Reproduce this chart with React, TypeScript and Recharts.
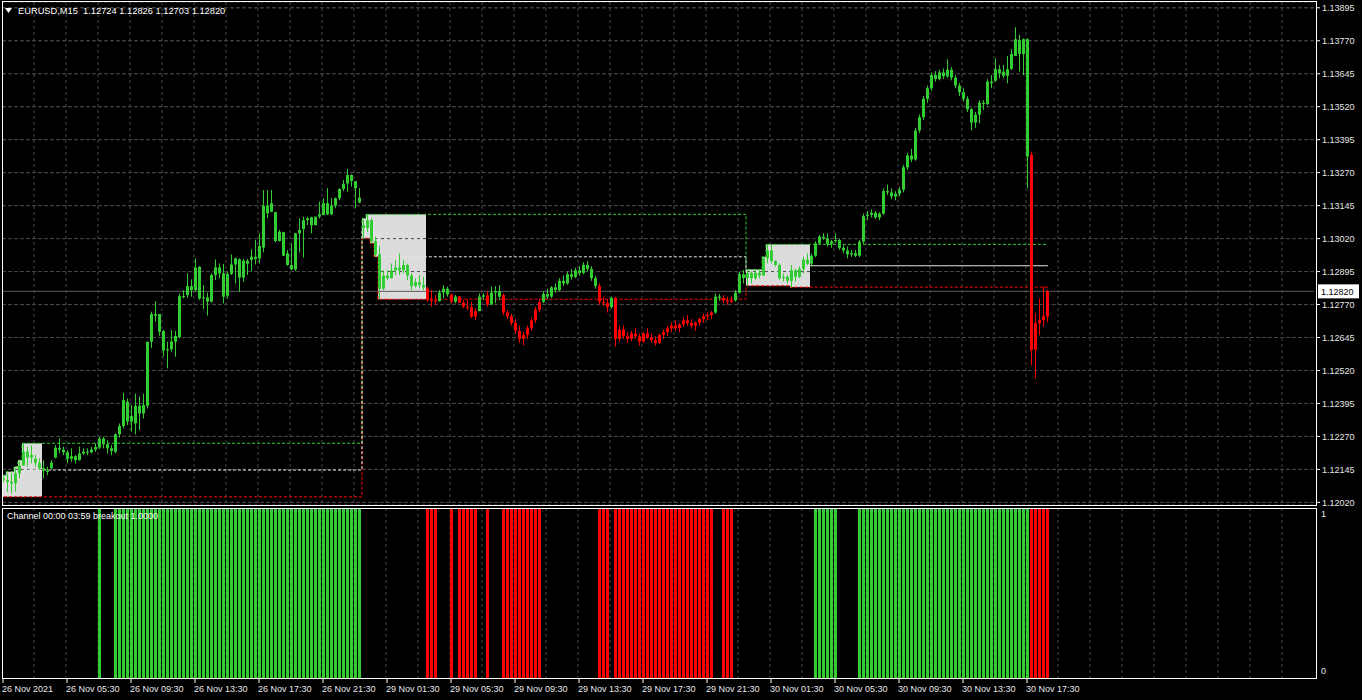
import React from "react";
import { ComposedChart, Bar, Line, XAxis, YAxis, CartesianGrid, ReferenceLine } from "recharts";

// Prices are stored in points above 1.12000 (1 point = 0.00001)
const PRICE_BASE = 1.12;
const POINT = 0.00001;

// [open, high, low, close] per M15 bar
const nov26Bars = [
  [111,120,96,105],[105,130,60,98],[98,130,54,92],[92,149,60,130],[130,174,111,160],
  [160,244,158,212],[212,231,155,190],[190,237,168,200],[185,199,155,170],[170,187,142,150],
  [150,180,111,140],[140,155,123,135],[150,180,145,170],[190,237,187,227],[227,262,206,220],
  [220,231,199,210],[210,218,168,185],[185,225,174,195],[195,199,168,180],[180,231,178,205],
  [205,225,199,212],[212,225,199,210],[210,231,206,220],[220,244,212,230],[228,268,222,262],
  [262,269,225,240],[240,256,206,225],[225,237,199,215],[212,281,206,278],[278,319,265,309],
  [309,436,300,408],[402,414,313,326],[326,389,288,348],[319,432,278,386],[386,421,294,357],
  [357,432,338,389],[386,629,376,629],[629,743,606,734],[734,783,705,728],[734,734,652,667],
  [670,673,572,596],[596,629,528,600],[600,673,591,630],[629,670,572,651],[647,812,642,802],
  [802,825,793,798],[806,888,796,840],[840,865,800,825],[825,945,819,910],[913,916,787,793],
  [793,844,753,797],[797,815,728,781],[781,888,777,882],[882,941,863,911],[911,926,869,888],
  [888,924,774,800],[803,895,793,886],[886,960,882,922],[922,948,850,945],[941,945,819,872],
  [872,943,857,936],[936,943,882,925],[939,980,897,951],[951,1015,922,943],[945,1040,926,992],
  [986,1204,968,1145],[1145,1204,1097,1116],[1122,1204,1120,1154],[1120,1122,1006,1011],[1011,1053,1008,1046],
  [1044,1046,955,955],[964,977,917,920],[920,1002,901,903],[903,1040,897,1040],[1040,1097,968,1053],
  [1056,1103,948,1090],[1090,1103,1071,1097],[1101,1103,1040,1071],[1071,1103,1071,1103],[1103,1160,1097,1112],
  [1109,1173,1109,1154],[1154,1211,1109,1112],[1112,1173,1109,1145],[1145,1176,1135,1173],[1173,1211,1166,1208],
  [1208,1242,1200,1227],[1229,1284,1198,1261],[1261,1264,1217,1238],[1238,1238,1135,1211],[1175,1211,1154,1157],
];

const nov29Bars = [
  [1070,1097,1021,1060],[1060,1112,1046,1090],[1090,1097,1002,1010],[1010,1027,951,960],[960,992,790,830],
  [830,901,825,880],[880,901,863,870],[870,926,869,900],[900,939,882,910],[910,964,882,900],
  [900,939,888,920],[920,925,863,880],[880,888,825,840],[840,869,835,855],[855,882,831,845],
  [845,876,825,835],[831,838,781,787],[787,825,762,785],[785,806,768,783],[783,825,781,815],
  [815,844,793,830],[830,838,800,808],[808,812,775,781],[781,806,775,800],[800,802,775,777],
  [777,787,756,762],[762,787,749,760],[760,781,718,724],[724,756,711,745],[745,812,745,800],
  [800,812,787,805],[805,822,762,770],[770,838,768,815],[815,840,775,820],[820,844,787,800],
  [806,812,730,740],[740,750,715,725],[725,735,690,700],[700,715,660,670],[670,690,625,640],
  [640,665,615,655],[655,690,640,680],[680,720,670,710],[710,760,700,750],[750,790,740,780],
  [780,820,775,810],[810,830,790,800],[800,840,795,835],[835,850,815,825],[825,870,820,860],
  [860,880,840,850],[850,895,845,885],[885,905,865,875],[875,910,870,900],[900,915,880,890],
  [890,930,885,920],[920,935,895,905],[905,915,860,870],[870,880,830,840],[840,850,770,780],
  [780,800,765,775],[775,790,740,760],[760,800,755,795],[795,800,610,640],[640,690,630,675],
  [675,690,640,650],[650,665,625,640],[640,670,630,660],[660,680,640,650],[650,660,615,630],
  [630,665,625,660],[660,680,640,645],[645,660,625,635],[635,650,615,625],[625,660,620,655],
  [655,675,640,665],[665,690,650,680],[680,700,665,690],[690,710,670,680],[680,700,665,695],
  [695,720,685,710],[710,730,690,700],[700,715,680,690],[690,705,670,700],[700,720,690,715],
  [715,735,700,725],[725,740,710,730],[730,745,715,740],[740,812,735,800],[800,810,785,795],
  [795,806,775,785],[785,800,768,780],[780,800,776,786],[786,825,781,815],[815,895,812,885],
  [885,901,850,870],
];

const nov30Bars = [
  [870,901,841,890],[890,895,850,870],[870,901,865,890],[890,903,869,880],[880,951,878,945],
  [945,998,926,975],[975,996,926,935],[935,938,914,920],[920,926,863,870],[870,888,857,875],
  [875,882,850,860],[860,920,834,900],[900,905,857,875],[875,914,870,905],[905,951,888,940],
  [940,964,920,925],[925,964,915,955],[955,1010,950,1002],[1002,1034,996,1027],[1027,1040,1015,1021],
  [1021,1040,990,1000],[1000,1015,985,1010],[1010,1040,1005,1015],[1015,1018,977,985],[985,996,964,975],
  [975,990,945,960],[960,977,951,965],[965,977,950,955],[955,1015,950,1008],[1008,1115,1000,1105],
  [1105,1125,1090,1110],[1110,1130,1100,1118],[1118,1125,1095,1100],[1100,1120,1090,1115],[1115,1210,1110,1200],
  [1200,1225,1185,1195],[1195,1210,1170,1180],[1180,1200,1165,1190],[1190,1215,1180,1205],[1205,1300,1195,1290],
  [1290,1345,1280,1335],[1335,1360,1310,1320],[1320,1440,1315,1430],[1430,1490,1420,1480],[1480,1560,1470,1550],
  [1550,1600,1535,1590],[1590,1650,1580,1640],[1640,1655,1615,1625],[1625,1660,1620,1650],[1650,1665,1625,1635],
  [1635,1700,1630,1660],[1660,1670,1620,1630],[1630,1640,1590,1600],[1600,1610,1560,1575],[1575,1590,1540,1550],
  [1550,1560,1500,1510],[1510,1515,1430,1460],[1460,1500,1440,1490],[1490,1545,1457,1535],[1535,1545,1508,1530],
  [1530,1624,1526,1615],[1615,1640,1590,1609],[1619,1703,1615,1662],[1662,1678,1628,1647],[1653,1678,1628,1637],
  [1637,1712,1609,1662],[1664,1738,1659,1720],[1712,1821,1712,1776],[1773,1792,1653,1720],[1720,1779,1640,1776],
  [1776,1779,1211,1331],[1337,1350,540,597],[600,737,490,699],[699,793,654,711],[711,838,686,726],
  [724,826,703,820],
];

// Session box (00:00-03:59) running high / low, per bar of the box window
const boxHigh26 = [123,136,136,155,180,244,244,244,244,244];
const boxLow26 = [41,41,41,41,41,41,41,41,41,41];
const boxHigh29 = [1097,1112,1112,1112,1112,1112,1112,1112,1112,1112,1112,1112,1112,1112,1112,1112];
const boxLow29 = [1021,1021,1002,951,790,790,790,790,790,790,790,790,790,790,790,790];
const boxHigh30 = [903,903,903,903,951,998,998,998,998,998,998,998,998,998,998,998];
const boxLow30 = [841,841,841,841,841,841,841,841,841,841,841,836,836,836,836,836];

// Breakout indicator runs [firstBar, lastBar]
const upRuns = [[24,24],[28,89],[203,208],[214,256]];
const downRuns = [[106,108],[112,112],[114,118],[121,121],[125,134],[149,151],[153,177],[180,182],[257,261]];

const yTicks = [1.13895,1.1377,1.13645,1.1352,1.13395,1.1327,1.13145,1.1302,1.12895,1.1277,1.12645,1.1252,1.12395,1.1227,1.12145,1.1202];
const xTickBars = [0,16,32,48,64,80,96,112,128,144,160,176,192,208,224,240,256];
const xTickLabels = ["26 Nov 2021","26 Nov 05:30","26 Nov 09:30","26 Nov 13:30","26 Nov 17:30","26 Nov 21:30","29 Nov 01:30","29 Nov 05:30","29 Nov 09:30","29 Nov 13:30","29 Nov 17:30","29 Nov 21:30","30 Nov 01:30","30 Nov 05:30","30 Nov 09:30","30 Nov 13:30","30 Nov 17:30"];

const GREEN = "#32cd32";
const RED = "#ff0000";
const BOX = "#dcdcdc";
const GRID = "#474747";
const FONT = "'Liberation Sans', Arial, sans-serif";
const TOTAL_SLOTS = 328;
const PLOT_LEFT = 2;
const PLOT_WIDTH = 1312;

const toPrice = (pts: number) => +(PRICE_BASE + pts * POINT).toFixed(6);
const allBars = [...nov26Bars, ...nov29Bars, ...nov30Bars];
const channelDays = [
  { first: 0, last: nov26Bars.length - 1, hi: boxHigh26, lo: boxLow26, solid: false },
  { first: nov26Bars.length, last: nov26Bars.length + nov29Bars.length - 1, hi: boxHigh29, lo: boxLow29, solid: false },
  { first: nov26Bars.length + nov29Bars.length, last: allBars.length - 1, hi: boxHigh30, lo: boxLow30, solid: true },
];

const signalAt = (i: number) => {
  for (const [a, b] of upRuns) if (i >= a && i <= b) return 1;
  for (const [a, b] of downRuns) if (i >= a && i <= b) return -1;
  return 0;
};

const rows = Array.from({ length: TOTAL_SLOTS }, (_, i) => {
  const row: any = { idx: i };
  const b = allBars[i];
  if (b) {
    row.o = toPrice(b[0]); row.h = toPrice(b[1]); row.l = toPrice(b[2]); row.c = toPrice(b[3]);
    row.sig = signalAt(i);
    row.hist = row.sig !== 0 ? 1 : null;
  }
  channelDays.forEach((d) => {
    if (i < d.first || i > d.last) return;
    const k = i - d.first;
    const inBox = k < d.hi.length;
    const hi = inBox ? d.hi[k] : d.hi[d.hi.length - 1];
    const lo = inBox ? d.lo[k] : d.lo[d.lo.length - 1];
    row.chHi = toPrice(hi);
    row.chLo = toPrice(lo);
    const mid = toPrice((hi + lo) / 2);
    if (inBox) { row.boxHi = toPrice(hi); row.boxLo = toPrice(lo); }
    if (!d.solid || k === 0) row.midDash = mid;
    if (d.solid && k >= d.hi.length - 1) row.midSolid = mid;
  });
  return row;
});

const last = allBars[allBars.length - 1];
const fmt = (p: number) => p.toFixed(5);
const lastClose = toPrice(last[3]);

// vertical grid every 8 bars (2 hours), at the left edge of each bar slot
const gridCats = Array.from({ length: 41 }, (_, k) => (k + 1) * 8).filter((v) => v < TOTAL_SLOTS);
const verticalGrid = gridCats.map((c) => PLOT_LEFT + (c * PLOT_WIDTH) / TOTAL_SLOTS);

const CandleShape = (props: any) => {
  const { x, y, height, payload } = props;
  if (!payload || payload.h == null || !isFinite(y) || !isFinite(height)) return null;
  const range = payload.h - payload.l;
  const k = range > 0 ? height / range : 0;
  const yOf = (p: number) => y + (payload.h - p) * k;
  const top = yOf(Math.max(payload.o, payload.c));
  const bot = yOf(Math.min(payload.o, payload.c));
  const color = payload.sig < 0 ? RED : GREEN;
  const bx = Math.round(x);
  return (
    <g>
      <rect x={bx + 1} y={y} width={1} height={Math.max(height, 1)} fill={color} />
      <rect x={bx} y={top} width={3} height={Math.max(bot - top, 1)} fill={color} />
    </g>
  );
};

const BoxShape = (props: any) => {
  const { x, y, width, height, payload } = props;
  if (!payload || payload.boxHi == null || !isFinite(y)) return null;
  return <rect x={Math.round(x)} y={y} width={Math.round(width)} height={Math.max(height, 1)} fill={BOX} />;
};

const HistShape = (props: any) => {
  const { x, y, height, payload } = props;
  if (!payload || payload.hist == null || !isFinite(y) || !(height > 0)) return null;
  return <rect x={Math.round(x)} y={y} width={3} height={height} fill={payload.sig < 0 ? RED : GREEN} />;
};

const PriceTick = (p: any) => {
  const { x, y, payload } = p;
  return (
    <g>
      <line x1={x + 2} x2={x + 6} y1={y} y2={y} stroke="#ffffff" />
      <text x={x + 8} y={y} dy={3.5} fill="#e6e6e6" fontSize={9} fontFamily={FONT}>{fmt(Number(payload.value))}</text>
    </g>
  );
};

const IndTick = (p: any) => {
  const { x, y, payload } = p;
  const v = Number(payload.value);
  return (
    <text x={x + 7} y={v === 1 ? y + 9 : y - 4} fill="#e6e6e6" fontSize={9} fontFamily={FONT}>{String(v)}</text>
  );
};

const TimeTick = (p: any) => {
  const { x, y, payload } = p;
  const pos = xTickBars.indexOf(Number(payload.value));
  if (pos < 0) return null;
  return (
    <g>
      <line x1={x - 1} x2={x - 1} y1={y} y2={y + 5} stroke="#ffffff" />
      <text x={x - 2} y={y + 14} fill="#e6e6e6" fontSize={9} fontFamily={FONT}>{xTickLabels[pos]}</text>
    </g>
  );
};

const PriceTag = (props: any) => {
  const vb = props.viewBox || {};
  const ax = (vb.x || 0) + (vb.width || 0);
  const yy = vb.y || 0;
  return (
    <g>
      <rect x={ax + 4} y={yy - 7} width={41} height={14} fill="#ffffff" />
      <text x={ax + 7} y={yy} dy={3.5} fill="#000000" fontSize={9} fontFamily={FONT}>{fmt(lastClose)}</text>
    </g>
  );
};

export default function App() {
  return (
    <div style={{ position: "fixed", left: 0, top: 0, width: 1362, height: 700, background: "#000", overflow: "hidden", fontFamily: FONT }}>
      <div style={{ position: "absolute", left: 0, top: 0 }}>
        <ComposedChart width={1362} height={512} data={rows} margin={{ top: 2, right: 0, bottom: 7, left: PLOT_LEFT }} barCategoryGap={0} barGap={0}>
          <XAxis xAxisId="main" dataKey="idx" type="category" hide />
          <XAxis xAxisId="box" dataKey="idx" type="category" hide />
          <YAxis orientation="right" width={48} domain={[1.1201, 1.13917]} allowDataOverflow ticks={yTicks} interval={0}
            tick={<PriceTick />} tickSize={0} tickMargin={0} axisLine={false} tickLine={false} type="number" />
          <CartesianGrid xAxisId="main" stroke={GRID} strokeDasharray="3 3" verticalPoints={verticalGrid} />
          <Bar xAxisId="box" dataKey={(d: any) => (d.boxHi == null ? null : [d.boxLo, d.boxHi])} shape={<BoxShape />} isAnimationActive={false} zIndex={100} />
          {yTicks.map((t) => (
            <ReferenceLine key={t} xAxisId="main" y={t} stroke={GRID} strokeDasharray="3 3" zIndex={150} />
          ))}
          <ReferenceLine xAxisId="main" y={lastClose} stroke="#5a5a5a" strokeWidth={1} label={<PriceTag />} zIndex={150} />
          <Line xAxisId="main" dataKey="chHi" type="step" stroke={GREEN} strokeWidth={1} strokeDasharray="3 2" dot={false} isAnimationActive={false} zIndex={200} />
          <Line xAxisId="main" dataKey="chLo" type="step" stroke={RED} strokeWidth={1} strokeDasharray="3 2" dot={false} isAnimationActive={false} zIndex={200} />
          <Line xAxisId="main" dataKey="midDash" type="step" stroke="#e6e6e6" strokeWidth={1} strokeDasharray="3 2" dot={false} isAnimationActive={false} zIndex={200} />
          <Line xAxisId="main" dataKey="midSolid" type="step" stroke="#e6e6e6" strokeWidth={1} dot={false} isAnimationActive={false} zIndex={200} />
          <Bar xAxisId="main" dataKey={(d: any) => (d.h == null ? null : [d.l, d.h])} shape={<CandleShape />} isAnimationActive={false} zIndex={300} />
        </ComposedChart>
      </div>
      <div style={{ position: "absolute", left: 0, top: 508 }}>
        <ComposedChart width={1362} height={192} data={rows} margin={{ top: 0, right: 0, bottom: 0, left: PLOT_LEFT }} barCategoryGap={0} barGap={0}>
          <XAxis dataKey="idx" type="category" height={22} ticks={xTickBars} interval={0} tick={<TimeTick />} tickSize={0} tickMargin={0} axisLine={false} tickLine={false} />
          <YAxis orientation="right" width={48} domain={[0, 1]} ticks={[0, 1]} interval={0} tick={<IndTick />} tickSize={0} tickMargin={0} axisLine={false} tickLine={false} type="number" />
          <CartesianGrid stroke={GRID} strokeDasharray="3 3" horizontal={false} verticalPoints={verticalGrid} />
          <Bar dataKey="hist" shape={<HistShape />} isAnimationActive={false} />
        </ComposedChart>
      </div>
      <div style={{ position: "absolute", left: 2, top: 1, width: 1315, height: 505, boxSizing: "border-box", border: "1px solid #fff", pointerEvents: "none" }} />
      <div style={{ position: "absolute", left: 2, top: 508, width: 1315, height: 171, boxSizing: "border-box", border: "1px solid #fff", pointerEvents: "none" }} />
      <svg style={{ position: "absolute", left: 5, top: 8 }} width={8} height={6}>
        <polygon points="0,0 7,0 3.5,5" fill="#fff" />
      </svg>
      <div style={{ position: "absolute", left: 18, top: 6, fontSize: 9.3, lineHeight: "10px", color: "#fff", whiteSpace: "pre" }}>
        {`EURUSD,M15  ${fmt(toPrice(last[0]))} ${fmt(toPrice(last[1]))} ${fmt(toPrice(last[2]))} ${fmt(toPrice(last[3]))}`}
      </div>
      <div style={{ position: "absolute", left: 7, top: 511, fontSize: 9, lineHeight: "10px", color: "#fff", whiteSpace: "pre" }}>
        Channel 00:00 03:59 breakout 1.0000
      </div>
    </div>
  );
}
